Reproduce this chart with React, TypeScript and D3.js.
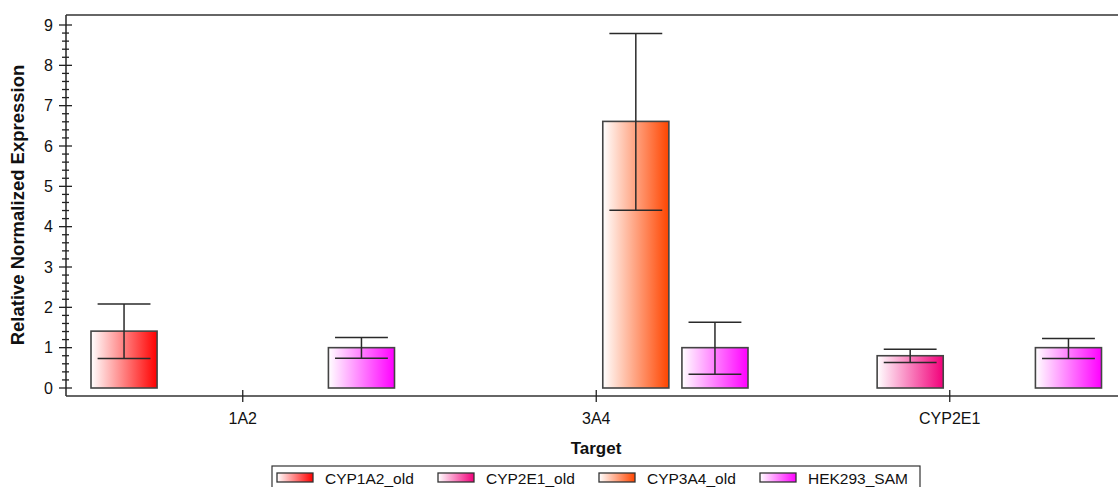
import React from "react";
import * as d3 from "d3";

// Targets on the x axis and the samples drawn in each group
const targets = ["1A2", "3A4", "CYP2E1"];
const samples = ["CYP1A2_old", "CYP2E1_old", "CYP3A4_old", "HEK293_SAM"];
const sampleColors = ["#ff0000", "#f2007a", "#ff4500", "#ff00ff"];

// Relative normalized expression per target (null = not measured)
const cyp1a2Old = [1.41, null, null];
const cyp2e1Old = [null, null, 0.8];
const cyp3a4Old = [null, 6.61, null];
const hek293Sam = [1.0, 1.0, 1.0];

// Error bar bounds per target
const cyp1a2OldLow = [0.73, null, null];
const cyp1a2OldHigh = [2.08, null, null];
const cyp2e1OldLow = [null, null, 0.63];
const cyp2e1OldHigh = [null, null, 0.96];
const cyp3a4OldLow = [null, 4.41, null];
const cyp3a4OldHigh = [null, 8.79, null];
const hek293SamLow = [0.74, 0.34, 0.73];
const hek293SamHigh = [1.25, 1.63, 1.23];

const yTicks = [0, 1, 2, 3, 4, 5, 6, 7, 8, 9];

const seriesValues = [cyp1a2Old, cyp2e1Old, cyp3a4Old, hek293Sam];
const seriesLow = [cyp1a2OldLow, cyp2e1OldLow, cyp3a4OldLow, hek293SamLow];
const seriesHigh = [cyp1a2OldHigh, cyp2e1OldHigh, cyp3a4OldHigh, hek293SamHigh];

const W = 1118;
const H = 487;
const FONT = "'Liberation Sans', Arial, sans-serif";

export default function App() {
  const left = 66;
  const bandW = 353.5;
  const top = 15;
  const axisY = 396;

  const x = d3.scaleBand<string>().domain(targets).range([left, left + bandW * targets.length]);
  const xInner = d3
    .scaleBand<string>()
    .domain(samples)
    .range([25, bandW - 25])
    .paddingInner(0.165);
  const y = d3.scaleLinear().domain([0, 9]).range([388, 25]);

  const minorTicks = d3.range(0, 9.01, 0.2).filter((v) => Math.abs(v - Math.round(v)) > 1e-6);

  const bw = xInner.bandwidth();
  const capHalf = bw * 0.4;

  return (
    <svg
      width={W}
      height={H}
      style={{ position: "absolute", left: 0, top: 0, background: "#fff" }}
      fontFamily={FONT}
    >
      <defs>
        {samples.map((s, i) => (
          <linearGradient key={s} id={`grad-${i}`} x1="0" y1="0" x2="1" y2="0">
            <stop offset="0" stopColor="#ffffff" />
            <stop offset="1" stopColor={sampleColors[i]} />
          </linearGradient>
        ))}
      </defs>

      {/* bars */}
      {samples.map((s, si) =>
        targets.map((t, ti) => {
          const v = seriesValues[si][ti];
          if (v == null) return null;
          const bx = (x(t) as number) + (xInner(s) as number);
          return (
            <rect
              key={`${s}-${t}`}
              x={bx}
              y={y(v)}
              width={bw}
              height={y(0) - y(v)}
              fill={`url(#grad-${si})`}
              stroke="#444"
              strokeWidth={1.6}
            />
          );
        })
      )}

      {/* error bars */}
      {samples.map((s, si) =>
        targets.map((t, ti) => {
          const lo = seriesLow[si][ti];
          const hi = seriesHigh[si][ti];
          if (lo == null || hi == null) return null;
          const cx = (x(t) as number) + (xInner(s) as number) + bw / 2;
          return (
            <g key={`err-${s}-${t}`} stroke="#2a2a2a" strokeWidth={1.5}>
              <line x1={cx} x2={cx} y1={y(hi)} y2={y(lo)} />
              <line x1={cx - capHalf} x2={cx + capHalf} y1={y(hi)} y2={y(hi)} />
              <line x1={cx - capHalf} x2={cx + capHalf} y1={y(lo)} y2={y(lo)} />
            </g>
          );
        })
      )}

      {/* frame: top line, left axis, bottom axis */}
      <g stroke="#333" strokeWidth={1.6} fill="none">
        <line x1={left} x2={W} y1={top} y2={top} />
        <line x1={left} x2={left} y1={top} y2={axisY} />
        <line x1={left} x2={W} y1={axisY} y2={axisY} />
      </g>

      {/* y ticks */}
      <g stroke="#222" strokeWidth={1.3}>
        {yTicks.map((v) => (
          <line key={`M${v}`} x1={left - 7} x2={left + 6} y1={y(v)} y2={y(v)} />
        ))}
        {minorTicks.map((v) => (
          <line key={`m${v}`} x1={left - 4} x2={left + 3} y1={y(v)} y2={y(v)} />
        ))}
      </g>
      <g fontSize={16} fill="#111" textAnchor="end">
        {yTicks.map((v) => (
          <text key={v} x={left - 13} y={y(v)} dy="0.35em">
            {v}
          </text>
        ))}
      </g>

      {/* x ticks */}
      <g stroke="#222" strokeWidth={1.3}>
        {targets.map((t) => {
          const cx = (x(t) as number) + x.bandwidth() / 2;
          return <line key={t} x1={cx} x2={cx} y1={axisY - 6} y2={axisY + 6} />;
        })}
      </g>
      <g fontSize={16} fill="#111" textAnchor="middle">
        {targets.map((t) => {
          const cx = (x(t) as number) + x.bandwidth() / 2;
          return (
            <text key={t} x={cx} y={424}>
              {t}
            </text>
          );
        })}
      </g>

      {/* axis titles */}
      <text x={596} y={454} textAnchor="middle" fontSize={17} fontWeight="bold" fill="#111">
        Target
      </text>
      <text
        transform="translate(24,205) rotate(-90)"
        textAnchor="middle"
        fontSize={18.5}
        fontWeight="bold"
        fill="#111"
      >
        Relative Normalized Expression
      </text>

      {/* legend */}
      <rect x={272} y={466} width={648} height={30} fill="#fff" stroke="#333" strokeWidth={1.2} />
      {samples.map((s, i) => {
        const lx = 277 + i * 161;
        return (
          <g key={`leg-${s}`}>
            <rect x={lx} y={473} width={36} height={9} fill={`url(#grad-${i})`} stroke="#333" strokeWidth={1.3} />
            <text x={lx + 48} y={484} fontSize={15.5} fill="#111">
              {s}
            </text>
          </g>
        );
      })}
    </svg>
  );
}
